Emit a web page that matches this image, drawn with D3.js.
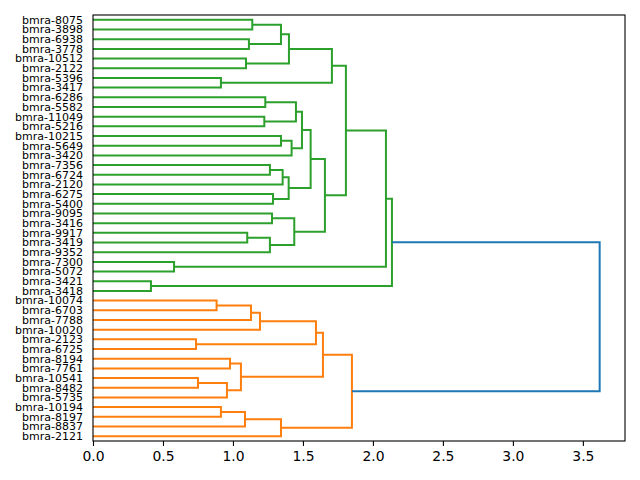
<!DOCTYPE html>
<html>
<head>
<meta charset="utf-8">
<script src="https://cdn.jsdelivr.net/npm/d3@7"></script>
<style>
  body { margin: 0; background: #fff; }
  text { font-family: "DejaVu Sans", sans-serif; }
</style>
</head>
<body>
<script>
// leaf labels, top to bottom
const leaves = ["bmra-8075","bmra-3898","bmra-6938","bmra-3778","bmra-10512","bmra-2122","bmra-5396","bmra-3417",
  "bmra-6286","bmra-5582","bmra-11049","bmra-5216","bmra-10215","bmra-5649","bmra-3420","bmra-7356","bmra-6724",
  "bmra-2120","bmra-6275","bmra-5400","bmra-9095","bmra-3416","bmra-9917","bmra-3419","bmra-9352","bmra-7300",
  "bmra-5072","bmra-3421","bmra-3418","bmra-10074","bmra-6703","bmra-7788","bmra-10020","bmra-2123","bmra-6725",
  "bmra-8194","bmra-7761","bmra-10541","bmra-8482","bmra-5735","bmra-10194","bmra-8197","bmra-8837","bmra-2121"];

// linkage: [childA, childB, height]; ids < 44 are leaves, merge k gets id 44 + k
const merges = [
  [0,1,1.138],[2,3,1.114],[44,45,1.343],[4,5,1.093],[46,47,1.40],[6,7,0.914],[48,49,1.707],
  [8,9,1.231],[10,11,1.224],[51,52,1.45],[12,13,1.343],[54,14,1.419],[53,55,1.493],
  [15,16,1.264],[57,17,1.355],[18,19,1.286],[58,59,1.398],[56,60,1.555],
  [20,21,1.279],[22,23,1.102],[63,24,1.264],[62,64,1.438],[61,65,1.657],[50,66,1.807],
  [25,26,0.579],[67,68,2.093],[27,28,0.414],[69,70,2.136],
  [29,30,0.883],[72,31,1.129],[73,32,1.193],[33,34,0.736],[74,75,1.593],
  [35,36,0.979],[37,38,0.75],[78,39,0.957],[77,79,1.057],[76,80,1.643],
  [40,41,0.914],[82,42,1.086],[83,43,1.343],[81,84,1.85],[71,85,3.62]
];

const xTicks = [0, 0.5, 1, 1.5, 2, 2.5, 3, 3.5];
const clusterColors = ["#ff7f0e", "#2ca02c"];
const aboveColor = "#1f77b4";

const W = 640, H = 480;
const margin = { top: 15, right: 15, bottom: 39, left: 93 };
const N = leaves.length;
const maxH = d3.max(merges, d => d[2]);
const threshold = 0.7 * maxH;

const x = d3.scaleLinear().domain([0, maxH * 1.05]).range([margin.left, W - margin.right]);
const y = d3.scaleLinear().domain([0, 10 * N]).range([margin.top, H - margin.bottom]);

// node positions: leaves at 5 + 10 i, merges at mean of children
const pos = leaves.map((d, i) => ({ y: 5 + 10 * i, h: 0 }));
merges.forEach(([a, b, h]) => pos.push({ y: (pos[a].y + pos[b].y) / 2, h: h, a: a, b: b }));

// colour below-threshold subtrees
const color = new Array(pos.length).fill(aboveColor);
const roots = [];
pos.forEach((p, id) => {
  if (id < N) return;
  if (p.h < threshold) {
    [p.a, p.b].forEach(c => {});
  } else {
    [p.a, p.b].forEach(c => { if (c >= N && pos[c].h < threshold) roots.push(c); });
  }
});
roots.sort((p, q) => pos[q].y - pos[p].y);
function paint(id, col) {
  if (id < N) return;
  color[id] = col;
  paint(pos[id].a, col); paint(pos[id].b, col);
}
roots.forEach((r, i) => paint(r, clusterColors[i % clusterColors.length]));

const svg = d3.select("body").append("svg").attr("width", W).attr("height", H);

svg.append("g")
  .selectAll("path")
  .data(pos.slice(N).map((p, k) => ({ p, id: N + k })))
  .join("path")
  .attr("fill", "none")
  .attr("stroke", d => color[d.id])
  .attr("stroke-width", 2)
  .attr("d", ({ p }) => {
    const A = pos[p.a], B = pos[p.b];
    return `M${x(A.h)},${y(A.y)}H${x(p.h)}V${y(B.y)}H${x(B.h)}`;
  });

// frame
svg.append("rect")
  .attr("x", margin.left).attr("y", margin.top)
  .attr("width", W - margin.left - margin.right)
  .attr("height", H - margin.top - margin.bottom)
  .attr("fill", "none").attr("stroke", "#000").attr("stroke-width", 1.1);

// x axis
const xAxis = svg.append("g")
  .attr("transform", `translate(0,${H - margin.bottom})`)
  .call(d3.axisBottom(x).tickValues(xTicks).tickFormat(d3.format(".1f")).tickSize(5).tickPadding(5));
xAxis.select(".domain").remove();
xAxis.selectAll("text").style("font-size", "13.9px").attr("fill", "#000").style("font-family", "DejaVu Sans");
xAxis.selectAll("line").attr("stroke", "#000").attr("stroke-width", 1.1);

// leaf labels
svg.append("g")
  .selectAll("text")
  .data(leaves)
  .join("text")
  .attr("x", margin.left - 10)
  .attr("y", (d, i) => y(5 + 10 * i))
  .attr("dy", "0.35em")
  .attr("text-anchor", "end")
  .style("font-size", "11px")
  .text(d => d);
</script>
</body>
</html>
